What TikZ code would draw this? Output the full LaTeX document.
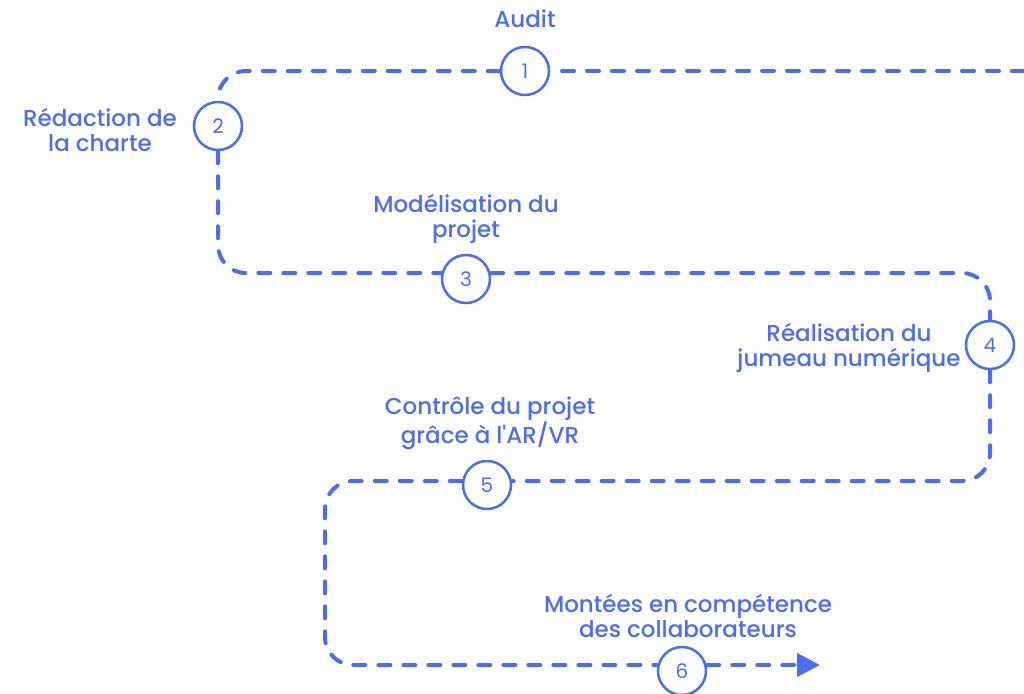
\documentclass[tikz,border=0pt]{standalone}
\usepackage{fontspec}
\setmainfont{Poppins}
\newfontfamily\labelfont{Poppins Medium}
\usepackage{xcolor}
\usepackage{tikz}
\usetikzlibrary{calc}
\usetikzlibrary{arrows.meta}
\usetikzlibrary{positioning}

\definecolor{roadblue}{RGB}{75,108,245}

\begin{document}
\begin{tikzpicture}[x=1pt,y=-1pt]
    \tikzstyle{stepnode}=[circle,draw=roadblue,fill=white,line width=2.5pt,minimum size=48pt,inner sep=0pt,text=roadblue,font=\fontsize{20}{20}\selectfont]
    \tikzstyle{steplabel}=[text=roadblue,align=center,inner sep=0pt,font=\labelfont\fontsize{23}{25}\selectfont]
    \tikzstyle{route}=[draw=roadblue,line width=4pt,line cap=round,dash pattern=on 12pt off 13pt,rounded corners=28pt]

    \useasboundingbox (0,0) rectangle (1024,693) ;

    \node[stepnode] (c1) at (525,71)  {1} ;
    \node[stepnode] (c2) at (218,126) {2} ;
    \node[stepnode] (c3) at (466,279) {3} ;
    \node[stepnode] (c4) at (990,345) {4} ;
    \node[stepnode] (c5) at (487,485) {5} ;
    \node[stepnode] (c6) at (682,671) {6} ;

    \coordinate (start) at (1024,71) ;
    \coordinate (turn)  at (325,575) ;
    \coordinate (tip)   at (820,665) ;

    \node[steplabel] (l1) at (525,19)  {Audit} ;
    \node[steplabel] (l2) at (100,130) {Rédaction de\\la charte} ;
    \node[steplabel] (l3) at (466,219) {Modélisation du\\projet} ;
    \node[steplabel] (l4) at (849,348) {Réalisation du\\jumeau numérique} ;
    \node[steplabel] (l5) at (490,423) {Contrôle du projet\\grâce à l'AR/VR} ;
    \node[steplabel] (l6) at (688,616) {Montées en compétence\\des collaborateurs} ;

    % the road, piece by piece
    \draw[route] (start) -- (c1) ;
    \draw[route] (c1) -| (c2) ;
    \draw[route] (c2) |- ([yshift=6pt]c3.west) ;
    \draw[route] ([yshift=6pt]c3.east) -| (c4) ;
    \draw[route] (c4) |- ([yshift=4pt]c5.east) ;
    \draw[route] ([yshift=4pt]c5.west) -| (turn) |- ([yshift=6pt]c6.west) ;
    \draw[route,-{Triangle[length=23pt,width=23pt]}] ([yshift=6pt]c6.east) -- (tip) ;

\end{tikzpicture}
\end{document}
